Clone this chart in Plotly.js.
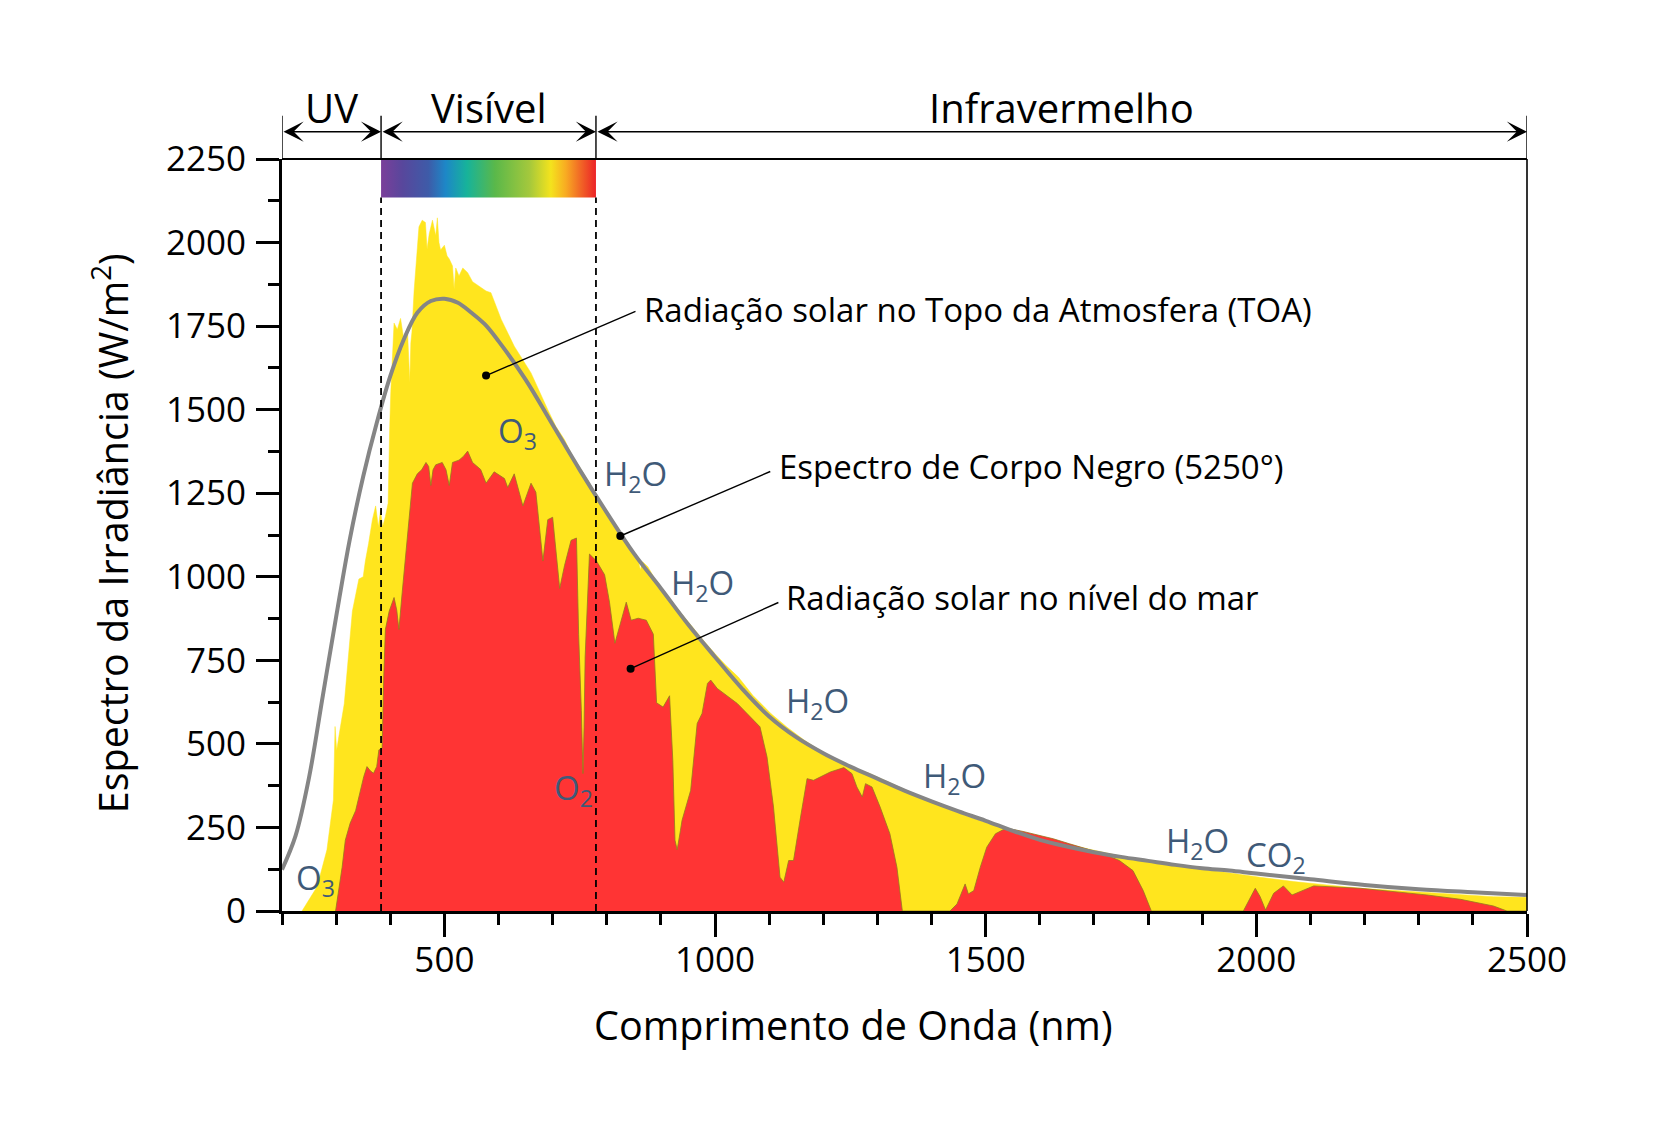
<!DOCTYPE html>
<html><head><meta charset="utf-8">
<script src="https://cdn.plot.ly/plotly-3.0.1.min.js"></script>
<style>html,body{margin:0;padding:0;background:#fff;}#chart{width:1659px;height:1137px;}</style>
</head><body><div id="chart"></div>
<script>
// ---- Data ----
const toaNm  = [237,265,283,295,298,301,305,315,330,342,350,354,360,367,373,378,382,386,391,396,399,401,407,413,419,426,432,435,436,438,440,444,449,453,459,465,468,472,478,484,487,490,493,500,505,509,515,518,521,527,534,543,552,564,577,586,596,605,629,660,691,706,722,737,753,768,784,800,815,830,845,858,862,866,876,890,907,920,940,960,981,1000,1020,1043,1070,1103,1133,1165,1196,1225,1256,1286,1316,1347,1380,1408,1440,1470,1500,1530,1560,1591,1622,1652,1683,1714,1744,1775,1805,1836,1880,1946,2007,2069,2130,2192,2250,2315,2380,2438,2500];
const toaVal = [0,73,183,332,552,480,522,620,897,993,1000,1047,1100,1171,1212,1150,1198,1150,1180,1220,1450,1554,1759,1740,1773,1700,1732,1600,1581,1700,1732,1855,1950,2047,2067,2060,1980,2026,2067,2020,2074,2000,1978,1992,1960,1951,1930,1860,1924,1900,1924,1910,1883,1869,1855,1850,1810,1770,1690,1610,1500,1450,1410,1360,1320,1280,1235,1195,1160,1120,1080,1050,1020,1045,1030,990,950,925,885,845,805,770,735,700,645,591,550,511,478,451,428,411,388,366,342,321,300,281,265,250,236,221,210,199,187,176,166,156,146,139,130,115,101,88,78,68,62,55,49,43,41];

const seaNm  = [299,305,311,317,326,336,345,351,357,363,369,375,379,385,388,391,398,407,412,416,422,430,441,450,458,466,471,475,479,484,496,503,509,515,527,535,543,552,567,577,592,611,617,629,645,660,669,682,691,700,713,722,734,744,748,753,756,758,760,768,781,796,805,815,827,836,845,858,873,886,892,904,916,922,926,930,936,939,955,967,976,986,992,1004,1041,1071,1083,1096,1108,1120,1127,1136,1145,1158,1170,1182,1195,1213,1238,1253,1262,1272,1278,1290,1305,1323,1336,1346,1434,1447,1462,1468,1478,1490,1502,1518,1532,1545,1569,1594,1625,1655,1686,1717,1747,1772,1791,1806,1976,1998,2007,2017,2032,2050,2066,2087,2106,2192,2315,2377,2408,2438,2463,2500];
const seaVal = [0,60,130,212,263,300,360,402,432,420,412,432,482,486,700,842,897,938,900,842,952,1100,1280,1308,1320,1342,1330,1273,1320,1335,1342,1320,1273,1342,1349,1360,1376,1342,1321,1280,1314,1294,1267,1308,1212,1280,1253,1047,1171,1178,965,1034,1109,1116,828,600,411,550,760,1068,1047,1006,924,801,870,924,870,876,870,828,623,610,644,450,212,183,240,271,361,561,591,681,691,666,621,571,551,461,311,101,86,151,151,281,396,391,401,416,429,411,371,341,381,371,311,231,131,0,0,21,81,51,61,131,191,231,243,246,238,229,216,201,186,171,151,121,61,0,0,68,43,3,53,75,48,63,75,68,48,35,25,15,0,0];

const bbNm  = [200,225,250,275,300,325,350,375,400,425,450,475,500,525,550,575,600,650,700,750,800,850,900,950,1000,1050,1100,1150,1200,1250,1300,1350,1400,1450,1500,1550,1600,1650,1700,1750,1800,1850,1900,1950,2000,2100,2200,2300,2400,2500];
const bbVal = [124,225,400,640,880,1110,1300,1460,1600,1710,1790,1825,1832,1820,1790,1755,1705,1590,1455,1320,1192,1070,965,858,760,665,582,520,472,432,396,360,328,298,270,240,213,193,176,162,150,138,128,121,112,95,78,65,56,48];

const bandEdges  = [200, 383, 780, 2500];
const bandLabels = ['UV', 'Visível', 'Infravermelho'];
const rainbowBottom = 2135;

const xTickVals = [500, 1000, 1500, 2000, 2500];
const xTickText = ['500', '1000', '1500', '2000', '2500'];
const yTickVals = [0, 250, 500, 750, 1000, 1250, 1500, 1750, 2000, 2250];
const yTickText = ['0', '250', '500', '750', '1000', '1250', '1500', '1750', '2000', '2250'];

const molLabels = ['O<sub>3</sub>','O<sub>3</sub>','H<sub>2</sub>O','H<sub>2</sub>O','H<sub>2</sub>O','H<sub>2</sub>O','H<sub>2</sub>O','CO<sub>2</sub>','O<sub>2</sub>'];
const molNm  = [223, 595, 791, 915, 1128, 1381, 1830, 1978, 699];
const molVal = [93, 1432, 1302, 976, 623, 398, 204, 163, 365];

const calloutText = ['Radiação solar no Topo da Atmosfera (TOA)', 'Espectro de Corpo Negro (5250°)', 'Radiação solar no nível do mar'];
const calloutNm  = [865, 1114, 1128];
const calloutVal = [1799, 1330, 937];
const leaderFromNm  = [577, 825, 844];
const leaderFromVal = [1602, 1122, 725];
const leaderToNm    = [853, 1102, 1117];
const leaderToVal   = [1794, 1315, 923];

// ---- Styles ----
const FONT = 'Open Sans, Noto Sans, DejaVu Sans, sans-serif';
const YELLOW = '#FFE51E';
const RED = '#FF3434';
const LABEL = '#3f5a78';
const rainbowScale = [[0,'#7b3f9a'],[0.10,'#58479c'],[0.22,'#3e5ba8'],[0.30,'#1d87c7'],[0.40,'#17b39a'],[0.53,'#5ab84a'],[0.69,'#a4c83c'],[0.79,'#f4e31d'],[0.86,'#f8ab22'],[0.93,'#f16526'],[1,'#ec2327']];

const traces = [];
traces.push({type:'scatter', x:toaNm, y:toaVal, mode:'lines', fill:'tozeroy', fillcolor:YELLOW, line:{color:YELLOW, width:0.5}, hoverinfo:'skip'});
traces.push({type:'scatter', x:seaNm, y:seaVal, mode:'lines', fill:'tozeroy', fillcolor:RED, line:{color:'rgba(150,120,30,0.8)', width:1}, hoverinfo:'skip'});
traces.push({type:'scatter', x:bbNm, y:bbVal, mode:'lines', line:{color:'#858585', width:4, shape:'spline', smoothing:1}, hoverinfo:'skip'});
// rainbow bar of the visible band
traces.push({type:'scatter', x:[bandEdges[1], bandEdges[2], bandEdges[2], bandEdges[1], bandEdges[1]],
  y:[rainbowBottom, rainbowBottom, 2250, 2250, rainbowBottom], mode:'lines', fill:'toself',
  line:{width:0, color:'rgba(0,0,0,0)'}, fillgradient:{type:'horizontal', colorscale:rainbowScale}, hoverinfo:'skip'});
// leader lines and dots
for (let i = 0; i < calloutText.length; i++) {
  traces.push({type:'scatter', x:[leaderFromNm[i], leaderToNm[i]], y:[leaderFromVal[i], leaderToVal[i]], mode:'lines', line:{color:'#000', width:1.4}, hoverinfo:'skip'});
}
traces.push({type:'scatter', x:leaderFromNm, y:leaderFromVal, mode:'markers', marker:{color:'#000', size:8}, hoverinfo:'skip'});

const shapes = [];
[bandEdges[1], bandEdges[2]].forEach(v => shapes.push({type:'line', xref:'x', yref:'y', x0:v, x1:v, y0:0, y1:rainbowBottom, line:{color:'#000', width:1.8, dash:'7px,5px'}}));
bandEdges.forEach(v => shapes.push({type:'line', xref:'x', yref:'paper', x0:v, x1:v, y0:1, y1:1.0575, line:{color:'#000', width:1.4}}));
shapes.push({type:'line', xref:'paper', yref:'paper', x0:0, x1:1, y0:1, y1:1, line:{color:'#000', width:2.2}});
shapes.push({type:'line', xref:'paper', yref:'paper', x0:1, x1:1, y0:0, y1:1, line:{color:'#000', width:1.6}});

const annotations = [];
for (let i = 0; i < bandLabels.length; i++) {
  annotations.push({xref:'x', yref:'paper', x:bandEdges[i+1], y:1.0363, axref:'x', ayref:'pixel', ax:bandEdges[i], ay:0,
    text:'', showarrow:true, arrowside:'end+start', arrowhead:3, startarrowhead:3, arrowsize:2.4, startarrowsize:2.4, arrowwidth:1.4, arrowcolor:'#000', standoff:0, startstandoff:0});
  annotations.push({xref:'x', yref:'paper', x:(bandEdges[i] + bandEdges[i+1]) / 2, y:1.069, text:bandLabels[i], showarrow:false,
    xanchor:'center', yanchor:'middle', font:{family:FONT, size:40, color:'#000'}});
}
for (let i = 0; i < molLabels.length; i++) {
  annotations.push({xref:'x', yref:'y', x:molNm[i], y:molVal[i], text:molLabels[i], showarrow:false, xanchor:'left', yanchor:'middle',
    font:{family:FONT, size:33, color:LABEL}});
}
for (let i = 0; i < calloutText.length; i++) {
  annotations.push({xref:'x', yref:'y', x:calloutNm[i], y:calloutVal[i], text:calloutText[i], showarrow:false, xanchor:'left', yanchor:'middle',
    font:{family:FONT, size:33, color:'#000'}});
}
annotations.push({xref:'paper', yref:'paper', x:0.4589, y:-0.1516, text:'Comprimento de Onda (nm)', showarrow:false, xanchor:'center', yanchor:'middle', font:{family:FONT, size:39.5, color:'#000'}});
annotations.push({xref:'paper', yref:'paper', x:-0.1371, y:0.5027, text:'Espectro da Irradiância (W/m<sup>2</sup>)', textangle:-90, showarrow:false, xanchor:'center', yanchor:'middle', font:{family:FONT, size:39.5, color:'#000'}});

const axisCommon = {showline:true, linewidth:3, linecolor:'#000', ticks:'outside', ticklen:23, tickwidth:3, tickcolor:'#000', showgrid:false, zeroline:false, tickfont:{family:FONT, size:35, color:'#000'}, fixedrange:true};

const layout = {
  width:1659, height:1137, margin:{l:282, r:132, t:159, b:226, pad:0},
  paper_bgcolor:'#fff', plot_bgcolor:'#fff', showlegend:false,
  font:{family:FONT, color:'#000'},
  xaxis:Object.assign({}, axisCommon, {range:[200, 2500], tickmode:'array', tickvals:xTickVals, ticktext:xTickText, ticklabelstandoff:-7,
    minor:{tickmode:'linear', tick0:0, dtick:100, ticks:'outside', ticklen:11, tickwidth:3, tickcolor:'#000', showgrid:false}}),
  yaxis:Object.assign({}, axisCommon, {range:[0, 2250], tickmode:'array', tickvals:yTickVals, ticktext:yTickText, ticklabelstandoff:3,
    minor:{tickmode:'linear', tick0:0, dtick:125, ticks:'outside', ticklen:11, tickwidth:3, tickcolor:'#000', showgrid:false}}),
  shapes:shapes, annotations:annotations
};

Plotly.newPlot('chart', traces, layout, {staticPlot:true, displayModeBar:false});
</script>
</body></html>
